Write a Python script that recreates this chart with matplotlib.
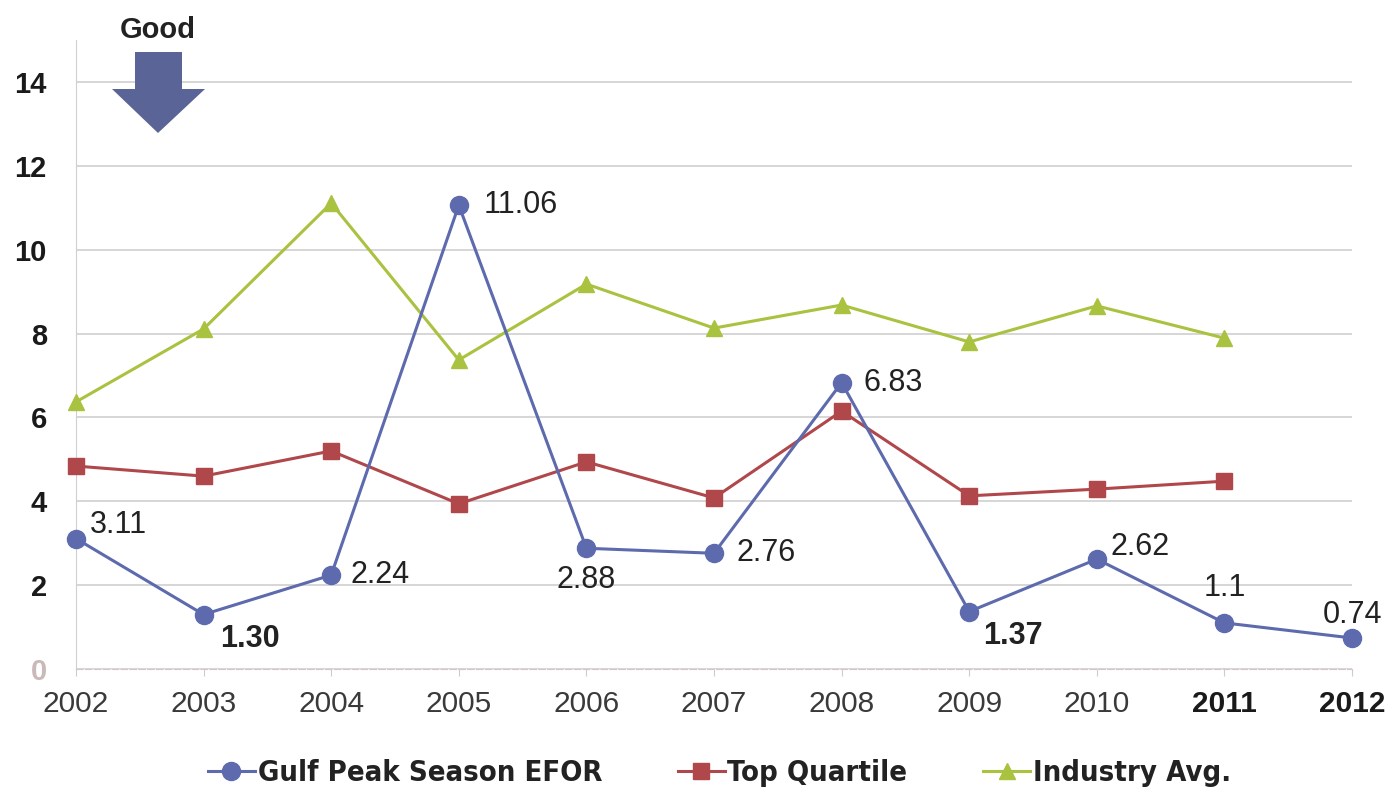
import matplotlib
matplotlib.use("Agg")
import matplotlib.pyplot as plt
from matplotlib.patches import Polygon

plt.rcParams["font.family"] = ["Liberation Sans", "DejaVu Sans"]

YEARS = list(range(2002, 2013))
GULF = [3.11, 1.30, 2.24, 11.06, 2.88, 2.76, 6.83, 1.37, 2.62, 1.1, 0.74]
GULF_LABELS = ["3.11", "1.30", "2.24", "11.06", "2.88", "2.76", "6.83", "1.37", "2.62", "1.1", "0.74"]
TOP_QUARTILE = [4.84, 4.60, 5.20, 3.94, 4.94, 4.08, 6.15, 4.13, 4.29, 4.48]
INDUSTRY_AVG = [6.37, 8.11, 11.11, 7.37, 9.18, 8.13, 8.68, 7.80, 8.66, 7.89]
Y_TICKS = [0, 2, 4, 6, 8, 10, 12, 14]

BLUE = "#5d6aad"
RED = "#b0474a"
GREEN = "#a9c23f"

fig = plt.figure(figsize=(13.89, 7.94), dpi=100)
ax = fig.add_axes([0.0547, 0.1574, 0.9187, 0.7922])

ax.plot(YEARS[:len(INDUSTRY_AVG)], INDUSTRY_AVG, color=GREEN, lw=2.2, marker="^",
        ms=11, clip_on=False, zorder=3, label="Industry Avg.")
ax.plot(YEARS[:len(TOP_QUARTILE)], TOP_QUARTILE, color=RED, lw=2.2, marker="s",
        ms=11, clip_on=False, zorder=4, label="Top Quartile")
ax.plot(YEARS, GULF, color=BLUE, lw=2.2, marker="o", ms=13,
        clip_on=False, zorder=5, label="Gulf Peak Season EFOR")

# label offsets (points) and weight per data point
offsets = [(10, -1, "left", "bottom", "normal"),
           (12, -7, "left", "top", "bold"),
           (14, 0, "left", "center", "normal"),
           (18, 0, "left", "center", "normal"),
           (0, -12, "center", "top", "normal"),
           (16, 0, "left", "center", "normal"),
           (16, 0, "left", "center", "normal"),
           (10, -7, "left", "top", "bold"),
           (10, -2, "left", "bottom", "normal"),
           (0, 14, "center", "bottom", "normal"),
           (0, 6, "center", "bottom", "normal")]
for x, y, txt, (dx, dy, ha, va, wt) in zip(YEARS, GULF, GULF_LABELS, offsets):
    ax.annotate(txt, (x, y), xytext=(dx, dy), textcoords="offset points",
                ha=ha, va=va, fontsize=22, fontweight=wt, color="#222222", zorder=6)

ax.set_xlim(YEARS[0], YEARS[-1])
ax.set_ylim(0, 15)
ax.set_yticks(Y_TICKS)
ax.set_xticks(YEARS)
ax.set_xticklabels([str(y) for y in YEARS])
for lbl in ax.get_yticklabels():
    lbl.set_fontsize(21)
    lbl.set_fontweight("bold")
    lbl.set_color("#1a1a1a")
ax.get_yticklabels()[0].set_color("#c9b9b9")
for i, lbl in enumerate(ax.get_xticklabels()):
    lbl.set_fontsize(21.5)
    if YEARS[i] >= 2011:
        lbl.set_fontweight("bold")
        lbl.set_color("#1a1a1a")
    else:
        lbl.set_color("#3a3a3a")

ax.tick_params(axis="y", length=0, pad=21)
ax.tick_params(axis="x", length=5, color="#cccccc", pad=10)
ax.grid(axis="y", color="#d0d0d0", lw=1.2)
ax.set_axisbelow(True)
for s in ["top", "right"]:
    ax.spines[s].set_visible(False)
ax.spines["left"].set_color("#d0d0d0")
ax.spines["bottom"].set_color("#d9c4c6")
ax.spines["bottom"].set_linestyle((0, (6, 2)))

# "Good" direction arrow
fig.text(158 / 1389, 1 - 30 / 794, "Good", ha="center", va="center",
         fontsize=21, fontweight="bold", color="#222222")
arrow_px = [(135, 52), (182, 52), (182, 89), (205, 89), (158, 133), (112, 89), (135, 89)]
arrow = Polygon([(x / 1389, 1 - y / 794) for x, y in arrow_px], closed=True,
                transform=fig.transFigure, facecolor="#5a6497", edgecolor="none")
fig.patches.append(arrow)

handles, labels = ax.get_legend_handles_labels()
order = [2, 1, 0]
leg = fig.legend([handles[i] for i in order], [labels[i] for i in order],
                 loc="center", bbox_to_anchor=(0.518, 1 - 773 / 794), ncol=3,
                 frameon=False, handlelength=1.6, columnspacing=2.6, handletextpad=0.1,
                 prop={"family": ["DejaVu Sans"], "stretch": "condensed",
                       "weight": "bold", "size": 21})
for t in leg.get_texts():
    t.set_color("#222222")

fig.savefig("out.png", dpi=100)
